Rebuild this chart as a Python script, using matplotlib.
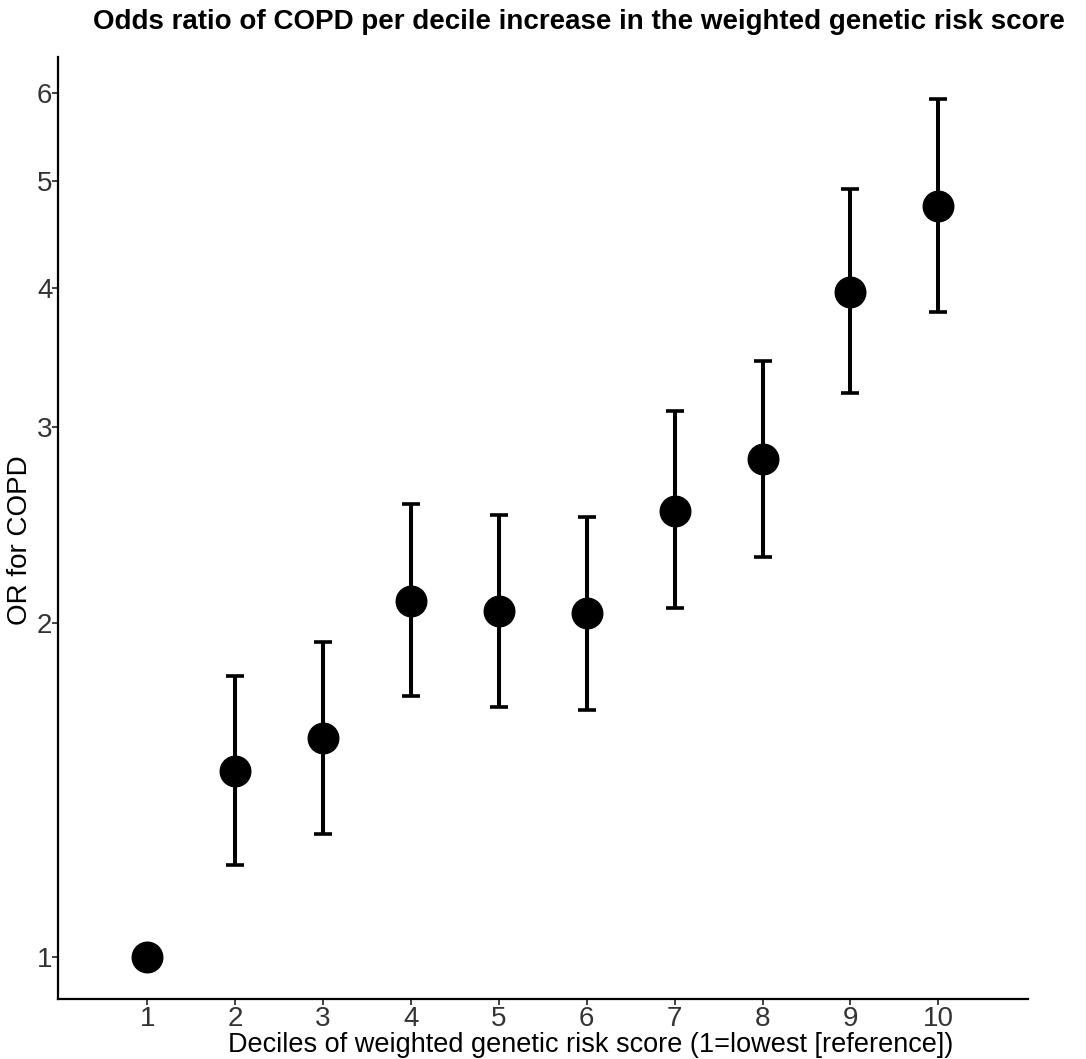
import numpy as np
import matplotlib.pyplot as plt
from matplotlib.ticker import FixedLocator, FixedFormatter, NullLocator

plt.rcParams['font.family'] = ['Liberation Sans', 'DejaVu Sans']

# deciles and odds ratios
deciles = [1, 2, 3, 4, 5, 6, 7, 8, 9, 10]
odds = [1.0, 1.47, 1.575, 2.09, 2.05, 2.04, 2.52, 2.81, 3.97, 4.74]
lower = [1.0, 1.21, 1.29, 1.72, 1.68, 1.67, 2.06, 2.29, 3.22, 3.81]
upper = [1.0, 1.79, 1.92, 2.56, 2.50, 2.49, 3.10, 3.44, 4.91, 5.92]
y_ticks = [1, 2, 3, 4, 5, 6]

fig = plt.figure(figsize=(10.86, 10.59), dpi=100)
ax = fig.add_axes([58 / 1086, 60 / 1059, (1028 - 58) / 1086, (999 - 57) / 1059])

x = np.array(deciles)
y = np.array(odds)
yerr = np.vstack([y - np.array(lower), np.array(upper) - y])
has_ci = np.array(upper) > np.array(lower)

ax.errorbar(x[has_ci], y[has_ci], yerr=yerr[:, has_ci], fmt='none',
            ecolor='black', elinewidth=2.9, capsize=6.5, capthick=2.6)
ax.plot(x, y, 'o', color='black', markersize=22)

ax.set_yscale('log')
ax.set_ylim(0.917, 6.46)
ax.set_xlim(-0.015, 11.02)
ax.yaxis.set_major_locator(FixedLocator(y_ticks))
ax.yaxis.set_major_formatter(FixedFormatter([str(t) for t in y_ticks]))
ax.yaxis.set_minor_locator(NullLocator())
ax.set_xticks(deciles)

for s in ['top', 'right']:
    ax.spines[s].set_visible(False)
for s in ['left', 'bottom']:
    ax.spines[s].set_linewidth(1.6)
ax.tick_params(axis='both', labelsize=20, length=4, width=1.3, colors='#333333', labelcolor='#333333')
ax.tick_params(axis='x', pad=1)
ax.tick_params(axis='y', pad=0)

ax.set_xlabel('Deciles of weighted genetic risk score (1=lowest [reference])', fontsize=19.5)
ax.xaxis.set_label_coords((591 - 58) / 970, -(1045 - 999) / 942)
ax.xaxis.label.set_va('center')
ax.set_ylabel('OR for COPD', fontsize=20)
ax.yaxis.set_label_coords((20 - 58) / 970, (999 - 540) / 942)
ax.yaxis.label.set_va('center')
fig.text(0.533, 0.979, 'Odds ratio of COPD per decile increase in the weighted genetic risk score',
         ha='center', va='center', fontsize=20, fontweight='bold')

fig.savefig('out.png', dpi=100)
